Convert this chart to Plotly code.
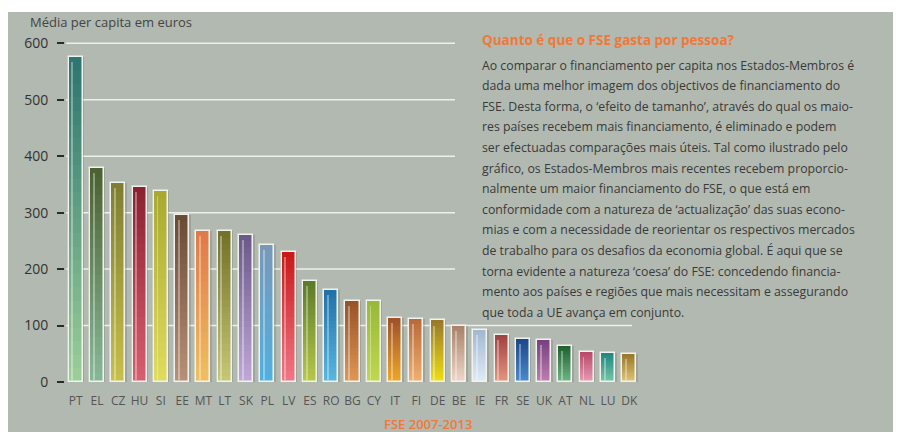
import plotly.graph_objects as go

countries = ["PT", "EL", "CZ", "HU", "SI", "EE", "MT", "LT", "SK", "PL", "LV", "ES", "RO", "BG",
             "CY", "IT", "FI", "DE", "BE", "IE", "FR", "SE", "UK", "AT", "NL", "LU", "DK"]
values = [576, 379, 352, 345, 338, 296, 267, 267, 261, 243, 231, 179, 163, 144,
          144, 113, 112, 109, 99, 92, 84, 76, 74, 64, 53, 51, 49]
top_colors = ["#2b7470", "#4a6030", "#7e7e30", "#8a2030", "#a8a830", "#6a4a34", "#e07848", "#707028",
              "#6a5888", "#7898b8", "#c81818", "#5a7a28", "#2070a8", "#985028", "#98b838", "#a05028",
              "#b86838", "#987828", "#a88068", "#a0b8d0", "#a04040", "#1a4888", "#784080", "#206030",
              "#b84868", "#208880", "#987828"]
bottom_colors = ["#9ccf98", "#88b898", "#c8c04a", "#d86070", "#e0dc60", "#b89078", "#f0c060", "#c8c878",
                 "#c0a8d8", "#50b0e0", "#f07888", "#b8c848", "#58b8e0", "#e09858", "#c0d850", "#f0a828",
                 "#f0b070", "#f0e010", "#f0d8c8", "#e0ecf8", "#e89880", "#4c8cd0", "#c080b0", "#70b888",
                 "#e8a0b8", "#78c8a8", "#e0c878"]
y_ticks = [0, 100, 200, 300, 400, 500, 600]
y_title = "Média per capita em euros"
x_title = "FSE 2007-2013"
heading = "Quanto é que o FSE gasta por pessoa?"
paragraph = [
    "Ao comparar o financiamento per capita nos Estados-Membros é",
    "dada uma melhor imagem dos objectivos de financiamento do",
    "FSE. Desta forma, o ‘efeito de tamanho’, através do qual os maio-",
    "res países recebem mais financiamento, é eliminado e podem",
    "ser efectuadas comparações mais úteis. Tal como ilustrado pelo",
    "gráfico, os Estados-Membros mais recentes recebem proporcio-",
    "nalmente um maior financiamento do FSE, o que está em",
    "conformidade com a natureza de ‘actualização’ das suas econo-",
    "mias e com a necessidade de reorientar os respectivos mercados",
    "de trabalho para os desafios da economia global. É aqui que se",
    "torna evidente a natureza ‘coesa’ do FSE: concedendo financia-",
    "mento aos países e regiões que mais necessitam e assegurando",
    "que toda a UE avança em conjunto.",
]

# page body has an 8px margin; design in screen pixels and shift
OFF = 8
W, H = 901 - OFF, 432 - OFF
L, R, T, B = 65 - OFF, 640 - OFF, 32 - OFF, 382 - OFF
PANEL = "#b2b9b0"
FONT = "Open Sans"


def px2x(sx):
    return (sx - OFF - L) / (R - L)


def px2y(sy):
    return (B - (sy - OFF)) / (B - T)


def hex2rgb(h):
    h = h.lstrip("#")
    return [int(h[i:i + 2], 16) for i in (0, 2, 4)]


def mix(c1, c2, t):
    a, b = hex2rgb(c1), hex2rgb(c2)
    return "rgb(%d,%d,%d)" % tuple(round(a[i] + (b[i] - a[i]) * t) for i in range(3))


fig = go.Figure()
BW = 0.66

# soft shadow
fig.add_trace(go.Bar(x=countries, y=values, width=BW + 0.14, marker=dict(color="rgba(60,70,60,0.18)", line=dict(width=0)),
                     hoverinfo="skip", showlegend=False))

# gradient bar body
N = 24
for i in range(N):
    t = (i + 0.5) / N  # 0 bottom -> 1 top
    cols = [mix(bc, tc, t) for tc, bc in zip(top_colors, bottom_colors)]
    fig.add_trace(go.Bar(x=countries, y=[v / N for v in values], base=[v * i / N for v in values],
                         width=BW, marker=dict(color=cols, line=dict(width=0)),
                         hoverinfo="skip", showlegend=False))

# highlight stripe
fig.add_trace(go.Bar(x=countries, y=[v - 12 for v in values], base=[3] * len(values), width=0.09, offset=-0.2,
                     marker=dict(color="rgba(255,255,255,0.35)", line=dict(width=0)),
                     hoverinfo="skip", showlegend=False))

# outline
fig.add_trace(go.Bar(x=countries, y=values, width=BW,
                     marker=dict(color="rgba(0,0,0,0)", line=dict(color="#f2f3ee", width=1.5)),
                     hovertemplate="%{x}: %{y}<extra></extra>", showlegend=False))

shapes = [
    dict(type="rect", xref="paper", yref="paper", x0=px2x(8), x1=px2x(905), y0=px2y(436), y1=px2y(12),
         fillcolor=PANEL, line=dict(width=0), layer="below"),
]
for v in y_ticks[1:]:
    x_end = 632 if v == 100 else 455
    shapes.append(dict(type="line", xref="paper", yref="y", x0=px2x(66), x1=px2x(x_end), y0=v, y1=v,
                       line=dict(color="#eef0ea", width=1.5), layer="below"))

annotations = [
    dict(text=y_title, x=px2x(28), y=px2y(22), xref="paper", yref="paper", xanchor="left", yanchor="middle",
         showarrow=False, font=dict(family=FONT, size=13, color="#444444")),
    dict(text=x_title, x=px2x(428), y=px2y(424), xref="paper", yref="paper", xanchor="center", yanchor="middle",
         showarrow=False, font=dict(family=FONT, size=13, color="#f07838", weight=600)),
    dict(text=heading, x=px2x(480), y=px2y(40), xref="paper", yref="paper", xanchor="left", yanchor="middle",
         showarrow=False, font=dict(family=FONT, size=13.5, color="#f07838", weight="bold")),
]
for i, line in enumerate(paragraph):
    annotations.append(dict(text=line, x=px2x(480), y=px2y(65 + 20.6 * i), xref="paper", yref="paper",
                            xanchor="left", yanchor="middle", showarrow=False,
                            font=dict(family=FONT, size=12.3, color="#3a3a3a")))

fig.update_layout(
    width=W, height=H,
    margin=dict(l=L, r=W - R, t=T, b=H - B, pad=0),
    paper_bgcolor="white", plot_bgcolor="rgba(0,0,0,0)",
    barmode="overlay", bargap=0,
    shapes=shapes, annotations=annotations,
    xaxis=dict(type="category", range=[-0.5, len(countries) - 0.5], showgrid=False, zeroline=False,
               showline=False, ticks="", ticklabelstandoff=10,
               tickfont=dict(family=FONT, size=12, color="#555555")),
    yaxis=dict(range=[0, 620], tickvals=y_ticks, showgrid=False, zeroline=False, showline=False,
               ticks="outside", ticklen=7, tickwidth=2, tickcolor="#2a2a2a", ticklabelstandoff=6,
               tickfont=dict(family=FONT, size=14, color="#333333")),
    font=dict(family=FONT),
)

fig.write_html("out.html")
